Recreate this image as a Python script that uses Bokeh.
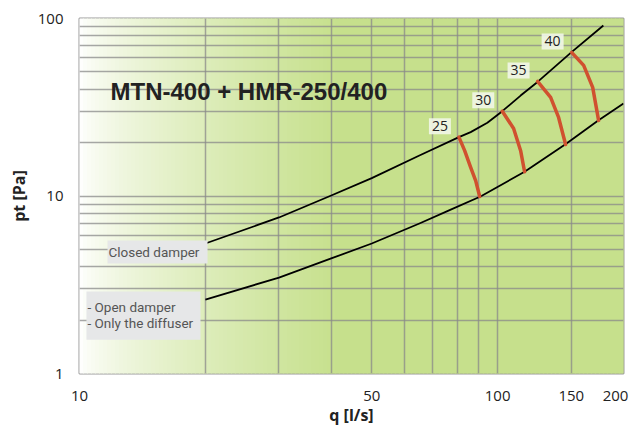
import numpy as np
from bokeh.plotting import figure
from bokeh.models import FixedTicker, Label, BoxAnnotation, ColumnDataSource, BasicTickFormatter
from bokeh.core.properties import value
from bokeh.embed import file_html
from bokeh.resources import INLINE

# ---------------- data ----------------
q_closed = [20, 30, 40, 50, 65, 80.8, 86.2, 94.5, 102.6, 113.5, 125, 150, 179]
pt_closed = [5.4, 7.57, 10.06, 12.6, 16.9, 21.45, 22.9, 25.85, 30.05, 36.8, 44.2, 64.4, 91.3]

q_open = [20, 30, 40, 50, 65, 77, 91, 116, 145, 174, 200]
pt_open = [2.61, 3.47, 4.45, 5.4, 7.0, 8.35, 9.93, 13.7, 19.5, 26.6, 33.2]

sound_labels = ["25", "30", "35", "40"]
sound_q = [[80.8, 83.4, 86.2, 88.6, 90.6],
           [102.6, 109.2, 113.5, 116.0],
           [124.6, 133.9, 139.9, 145.4],
           [150.3, 160.6, 168.8, 174.4]]
sound_pt = [[21.45, 18.0, 14.5, 12.2, 9.93],
            [30.05, 24.0, 18.0, 13.7],
            [44.2, 35.9, 27.7, 19.5],
            [64.4, 54.4, 40.9, 26.6]]

x_tick_values = [10, 50, 100, 150, 200]
x_tick_labels = ["10", "50", "100", "150", "200"]
y_tick_values = [1, 10, 100]
x_grid_values = [20, 30, 40, 50, 60, 70, 80, 90, 100, 150]
y_grid_values = [m * d for d in (1, 10) for m in range(1, 10)] + [100]

title_text = "MTN-400 + HMR-250/400"
closed_text = "Closed damper"
open_lines = ["- Open damper", "- Only the diffuser"]

# ---------------- figure ----------------
FRAME_W = 544
p = figure(width=631, height=436, x_axis_type="log", y_axis_type="log",
           x_range=(10, 200), y_range=(1, 100),
           output_backend="svg", toolbar_location=None,
           min_border_left=79, min_border_right=8, min_border_top=18, min_border_bottom=63)
p.background_fill_color = "white"
p.border_fill_color = "white"
p.outline_line_color = "#999999"
p.outline_line_width = 2

# background gradient (white -> green), purely decorative
n = 136
f = np.linspace(0, 1, n + 1)
edges = 10 ** (1 + f * np.log10(20))
pxm = (f[:-1] + f[1:]) / 2 * FRAME_W
t = np.clip((pxm - 1) / 260.0, 0, 1) ** 0.7
green = np.array([198, 224, 140])
cols = []
for tt in t:
    c = 255 + (green - 255) * tt
    cols.append("#%02x%02x%02x" % tuple(int(round(v)) for v in c))
p.quad(left=edges[:-1], right=edges[1:], bottom=1, top=100,
       fill_color=cols, line_color=cols, line_width=1, level="image")

# grids
p.xgrid.ticker = FixedTicker(ticks=x_grid_values)
p.ygrid.ticker = FixedTicker(ticks=y_grid_values)
for g in (p.xgrid, p.ygrid):
    g.grid_line_color = "#8a8a8a"
    g.grid_line_alpha = 0.75
    g.grid_line_width = 1.5

# axes: the last x label sits ~8px inside the right edge, as in the reference
px_per_decade = FRAME_W / np.log10(200 / 10)
x_tick_pos = list(x_tick_values)
x_tick_pos[-1] = round(x_tick_values[-1] * 10 ** (-8 / px_per_decade), 1)
p.xaxis.ticker = FixedTicker(ticks=x_tick_pos)
p.xaxis.major_label_overrides = {pos: lab for pos, lab in zip(x_tick_pos, x_tick_labels)}
p.yaxis.ticker = FixedTicker(ticks=y_tick_values)
p.xaxis.formatter = BasicTickFormatter()
p.yaxis.formatter = BasicTickFormatter()
for ax in (p.xaxis, p.yaxis):
    ax.axis_line_color = None
    ax.major_tick_line_color = None
    ax.minor_tick_line_color = None
    ax.major_tick_out = 0
    ax.major_tick_in = 0
    ax.minor_tick_out = 0
    ax.minor_tick_in = 0
    ax.major_label_text_font = "Open Sans"
    ax.major_label_text_font_size = "15px"
    ax.major_label_text_color = "#222222"
    ax.axis_label_text_font = "Open Sans"
    ax.axis_label_text_font_style = "bold"
    ax.axis_label_text_font_size = "16px"
    ax.axis_label_text_color = "#222222"
p.xaxis.major_label_standoff = 17
p.yaxis.major_label_standoff = 16
p.xaxis.axis_label = "q [l/s]"
p.yaxis.axis_label = "pt [Pa]"
p.xaxis.axis_label_standoff = 0
p.yaxis.axis_label_standoff = 5

# curves
p.line(q_closed, pt_closed, line_color="black", line_width=1.8, line_join="round")
p.line(q_open, pt_open, line_color="black", line_width=1.8, line_join="round")

p.multi_line(xs=sound_q, ys=sound_pt, line_color="#d0512f", line_width=3.5,
             line_cap="round", line_join="round")

lab_src = ColumnDataSource(dict(x=[s[0] for s in sound_q], y=[s[0] for s in sound_pt],
                                text=sound_labels))
p.text(x="x", y="y", text="text", source=lab_src, x_offset=-19, y_offset=-11,
       text_align="center", text_baseline="middle",
       text_font=value("Open Sans"), text_font_size="14px", text_color="#222222",
       background_fill_color="#f1f6e8", background_fill_alpha=0.9, padding=3)

# title inside the plot
p.add_layout(Label(x=11.86, y=38.9, text=title_text, text_baseline="alphabetic",
                   text_font="Liberation Sans", text_font_style="bold",
                   text_font_size="24px", text_color="#222222"))

# legend boxes
p.add_layout(BoxAnnotation(left=11.67, right=20.24, bottom=4.17, top=5.62,
                           fill_color="#e6e7e8", fill_alpha=1, line_color=None))
p.add_layout(BoxAnnotation(left=10.39, right=19.47, bottom=1.55, top=2.90,
                           fill_color="#e6e7e8", fill_alpha=1, line_color=None))
p.add_layout(Label(x=11.73, y=4.81, text=closed_text, text_baseline="middle",
                   text_font="Roboto", text_font_size="13.5px", text_color="#555555"))
p.add_layout(Label(x=10.45, y=2.355, text=open_lines[0], text_baseline="middle",
                   text_font="Roboto", text_font_size="13.5px", text_color="#555555"))
p.add_layout(Label(x=10.45, y=1.913, text=open_lines[1], text_baseline="middle",
                   text_font="Roboto", text_font_size="13.5px", text_color="#555555"))

open("out.html", "w").write(file_html(p, INLINE))
